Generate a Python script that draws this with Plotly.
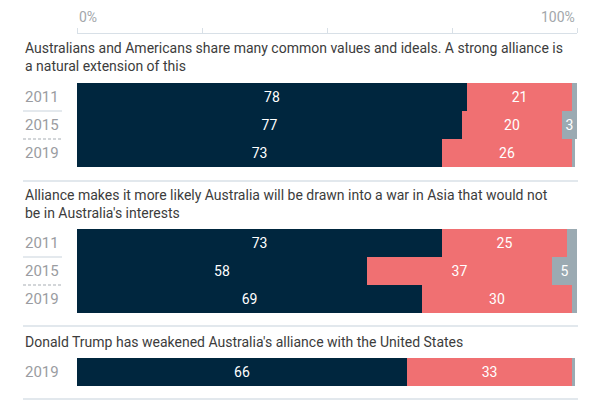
import plotly.graph_objects as go

questions = [
    "Australians and Americans share many common values and ideals. A strong alliance is<br>a natural extension of this",
    "Alliance makes it more likely Australia will be drawn into a war in Asia that would not<br>be in Australia's interests",
    "Donald Trump has weakened Australia's alliance with the United States",
]
years = [["2011", "2015", "2019"], ["2011", "2015", "2019"], ["2019"]]
agree = [[78, 77, 73], [73, 58, 69], [66]]
disagree = [[21, 20, 26], [25, 37, 30], [33]]
no_answer = [[1, 3, 0.6], [2, 5, 1], [0.6]]
tick_labels = {0: "0%", 100: "100%"}

NAVY = "#00263e"
SALMON = "#f07072"
GREY = "#9baab2"
LINE = "#d8e0e7"
FONT = "Roboto"

W, H = 600, 400
ML, MR = 77, 23
PW = W - ML - MR


def px_x(p):
    return (p - ML) / PW


def px_y(p):
    return 1 - p / H


# vertical pixel extents of bar blocks
blocks = [(83, 167), (229, 313), (358, 386)]
title_centers = [57, 204, 342]
separators = [181, 326, 399]

fig = go.Figure()
series = [(agree, NAVY), (disagree, SALMON), (no_answer, GREY)]
for g in range(3):
    yname = "y" if g == 0 else f"y{g+1}"
    for vals, col in series:
        v = vals[g]
        txt = [str(int(round(a))) if a >= 3 else "" for a in v]
        fig.add_trace(go.Bar(
            x=v, y=years[g], orientation="h", marker=dict(color=col, line=dict(width=0)),
            text=txt, textposition="inside", insidetextanchor="middle",
            textangle=0, textfont=dict(color="white", size=14, family=FONT),
            xaxis="x", yaxis=yname, showlegend=False, hoverinfo="skip",
        ))

layout = dict(
    width=W, height=H, margin=dict(l=ML, r=MR, t=0, b=0),
    paper_bgcolor="white", plot_bgcolor="white",
    barmode="stack", bargap=0,
    font=dict(family=FONT, color="#3c3c3c"),
    xaxis=dict(range=[0, 100], side="top", anchor="free", position=px_y(33),
               showline=True, linecolor=LINE, linewidth=1, ticks="outside", ticklen=5,
               tickcolor=LINE, tickvals=[0, 25, 50, 75, 100], showticklabels=False,
               showgrid=False, zeroline=False, fixedrange=True),
)
annotations = []
shapes = []
for g in range(3):
    key = "yaxis" if g == 0 else f"yaxis{g+1}"
    yref = "y" if g == 0 else f"y{g+1}"
    top, bot = blocks[g]
    n = len(years[g])
    layout[key] = dict(domain=[px_y(bot), px_y(top)], anchor="x", type="category",
                       categoryorder="array", categoryarray=years[g],
                       range=[n - 0.5, -0.5], autorange=False,
                       showticklabels=False, showgrid=False, zeroline=False, showline=False,
                       fixedrange=True)
    annotations.append(dict(text=questions[g], x=px_x(23), y=px_y(title_centers[g]),
                            xref="paper", yref="paper", xanchor="left", yanchor="middle",
                            align="left", showarrow=False,
                            font=dict(size=14, color="#3c3c3c", family=FONT)))
    for i, yr in enumerate(years[g]):
        annotations.append(dict(text=yr, x=px_x(23), y=i, xref="paper", yref=yref,
                                xanchor="left", yanchor="middle", showarrow=False,
                                font=dict(size=15, color="#9a9ca1", family=FONT)))
        if i < n - 1:
            shapes.append(dict(type="line", xref="paper", yref=yref,
                               x0=px_x(23), x1=px_x(62), y0=i + 0.5, y1=i + 0.5,
                               line=dict(color="#c9d3dc" if i == 0 else "#a7adb3", width=1,
                                         dash="solid" if i == 0 else "3px,2px")))
for s in separators:
    shapes.append(dict(type="line", xref="paper", yref="paper",
                       x0=px_x(23), x1=px_x(578), y0=px_y(s), y1=px_y(s),
                       line=dict(color=LINE, width=1.5)))
for v, t in tick_labels.items():
    annotations.append(dict(text=t, x=v, y=px_y(17), xref="x", yref="paper",
                            xanchor="left" if v == 0 else "right", yanchor="middle",
                            showarrow=False, font=dict(size=14, color="#a3a7ab", family=FONT)))
layout["annotations"] = annotations
layout["shapes"] = shapes
fig.update_layout(**layout)
fig.write_html("out.html", config={"displayModeBar": False},
               post_script="document.body.style.margin='0';")
